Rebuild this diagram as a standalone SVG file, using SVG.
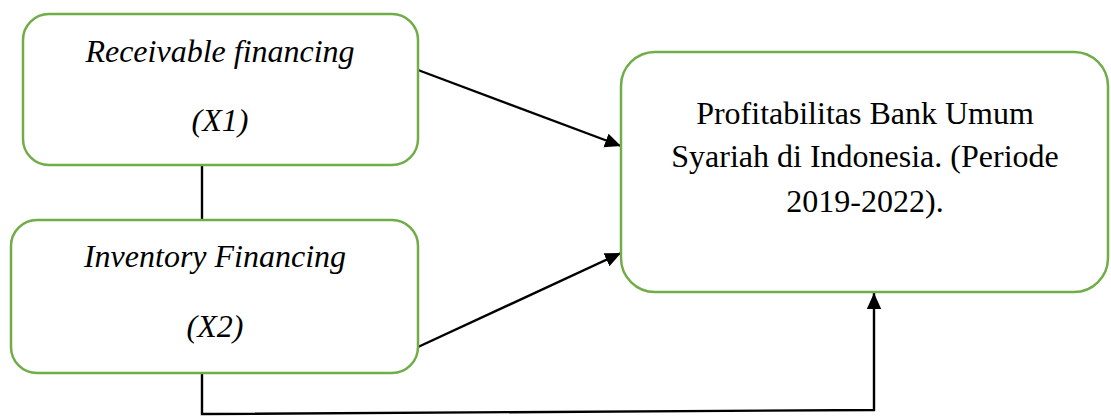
<svg xmlns="http://www.w3.org/2000/svg" width="1111" height="419" viewBox="0 0 1111 419">
<style>
.box{fill:#fff;stroke:#70ad47;stroke-width:2.5}
.it{font-family:"Liberation Serif",serif;font-style:italic;font-size:32px;fill:#000;text-anchor:middle}
.rg{font-family:"Liberation Serif",serif;font-size:32px;fill:#000;text-anchor:middle}
.ln{fill:none;stroke:#000;stroke-width:2.4}
</style>
<defs>
<marker id="ah" viewBox="0 0 10 10" refX="10" refY="5" markerWidth="16" markerHeight="16" markerUnits="userSpaceOnUse" orient="auto">
<path d="M0,0.5 L10,5 L0,9.5 z" fill="#000"/>
</marker>
</defs>
<g id="connectors">
<line class="ln" x1="202" y1="165" x2="202" y2="220"/>
<line class="ln" x1="418" y1="70" x2="621" y2="146" marker-end="url(#ah)"/>
<line class="ln" x1="418" y1="347" x2="621" y2="253" marker-end="url(#ah)"/>
<polyline class="ln" points="202,373 202,414 874,410 874,293" marker-end="url(#ah)"/>
</g>
<g id="node-x1">
<rect class="box" x="23" y="14" width="395" height="151" rx="26"/>
<text class="it" x="220" y="62">Receivable financing</text>
<text class="it" x="220" y="131">(X1)</text>
</g>
<g id="node-x2">
<rect class="box" x="11" y="220" width="407" height="153" rx="26"/>
<text class="it" x="215" y="267">Inventory Financing</text>
<text class="it" x="215" y="337">(X2)</text>
</g>
<g id="node-y">
<rect class="box" x="621" y="52" width="487" height="240" rx="34"/>
<text class="rg" x="865" y="124">Profitabilitas Bank Umum</text>
<text class="rg" x="865" y="167">Syariah di Indonesia. (Periode</text>
<text class="rg" x="865" y="212">2019-2022).</text>
</g>
</svg>
